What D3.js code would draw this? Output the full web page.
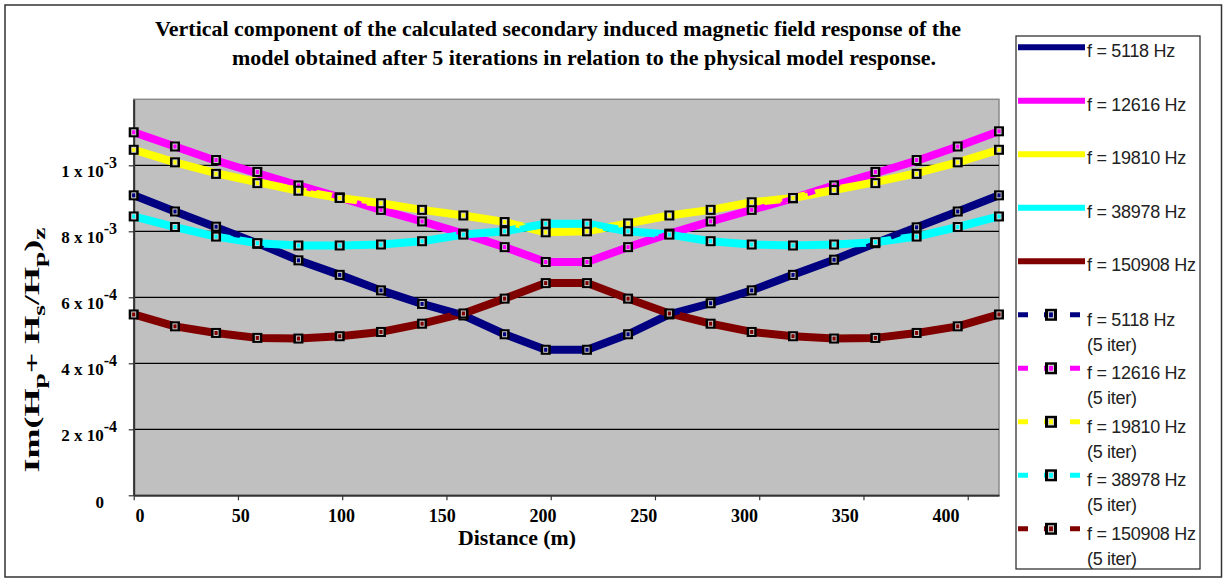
<!DOCTYPE html>
<html>
<head>
<meta charset="utf-8">
<script src="https://cdn.jsdelivr.net/npm/d3@7/dist/d3.min.js"></script>
<style>
  body { margin: 0; background: #ffffff; }
  svg { display: block; }
</style>
</head>
<body>
<svg id="chart" width="1227" height="581"></svg>
<script>
// Station positions along the profile (m)
const distance = [0, 19.8, 39.5, 59.3, 79.0, 98.8, 118.6, 138.3, 158.1, 177.9, 197.6,
                  217.4, 237.1, 256.9, 276.7, 296.4, 316.2, 335.9, 355.7, 375.5, 395.2, 415.0];

// Physical model response, Im(Hp + Hs/Hp)z
const phys5118   = [9.09e-4, 8.60e-4, 8.12e-4, 7.64e-4, 7.12e-4, 6.68e-4, 6.21e-4, 5.80e-4, 5.45e-4, 4.88e-4, 4.41e-4,
                    4.41e-4, 4.88e-4, 5.48e-4, 5.82e-4, 6.21e-4, 6.68e-4, 7.14e-4, 7.64e-4, 8.12e-4, 8.60e-4, 9.09e-4];
const phys12616  = [1.100e-3, 1.057e-3, 1.014e-3, 9.76e-4, 9.39e-4, 9.03e-4, 8.65e-4, 8.30e-4, 7.93e-4, 7.52e-4, 7.07e-4,
                    7.07e-4, 7.52e-4, 7.93e-4, 8.30e-4, 8.65e-4, 9.00e-4, 9.39e-4, 9.76e-4, 1.014e-3, 1.057e-3, 1.103e-3];
const phys19810  = [1.047e-3, 1.009e-3, 9.76e-4, 9.49e-4, 9.23e-4, 9.01e-4, 8.85e-4, 8.65e-4, 8.48e-4, 8.28e-4, 7.97e-4,
                    8.00e-4, 8.24e-4, 8.48e-4, 8.65e-4, 8.88e-4, 9.01e-4, 9.25e-4, 9.49e-4, 9.76e-4, 1.009e-3, 1.047e-3];
const phys38978  = [8.45e-4, 8.13e-4, 7.84e-4, 7.64e-4, 7.57e-4, 7.57e-4, 7.60e-4, 7.70e-4, 7.90e-4, 8.00e-4, 8.23e-4,
                    8.23e-4, 8.00e-4, 7.90e-4, 7.70e-4, 7.60e-4, 7.57e-4, 7.60e-4, 7.67e-4, 7.84e-4, 8.13e-4, 8.45e-4];
const phys150908 = [5.48e-4, 5.12e-4, 4.92e-4, 4.77e-4, 4.75e-4, 4.82e-4, 4.95e-4, 5.20e-4, 5.51e-4, 5.96e-4, 6.43e-4,
                    6.43e-4, 5.96e-4, 5.51e-4, 5.20e-4, 4.95e-4, 4.82e-4, 4.75e-4, 4.77e-4, 4.92e-4, 5.12e-4, 5.48e-4];

// Calculated response after 5 iterations
const iter5118   = [9.09e-4, 8.60e-4, 8.14e-4, 7.62e-4, 7.12e-4, 6.68e-4, 6.21e-4, 5.80e-4, 5.45e-4, 4.88e-4, 4.41e-4,
                    4.41e-4, 4.88e-4, 5.48e-4, 5.82e-4, 6.21e-4, 6.68e-4, 7.14e-4, 7.64e-4, 8.12e-4, 8.60e-4, 9.09e-4];
const iter12616  = [1.100e-3, 1.057e-3, 1.016e-3, 9.80e-4, 9.39e-4, 9.03e-4, 8.65e-4, 8.30e-4, 7.93e-4, 7.52e-4, 7.07e-4,
                    7.07e-4, 7.52e-4, 7.93e-4, 8.30e-4, 8.65e-4, 9.00e-4, 9.39e-4, 9.80e-4, 1.016e-3, 1.057e-3, 1.103e-3];
const iter19810  = [1.047e-3, 1.009e-3, 9.74e-4, 9.46e-4, 9.23e-4, 9.01e-4, 8.85e-4, 8.65e-4, 8.48e-4, 8.28e-4, 7.97e-4,
                    8.00e-4, 8.24e-4, 8.48e-4, 8.65e-4, 8.88e-4, 9.01e-4, 9.25e-4, 9.46e-4, 9.74e-4, 1.009e-3, 1.047e-3];
const iter38978  = [8.45e-4, 8.13e-4, 7.84e-4, 7.64e-4, 7.57e-4, 7.57e-4, 7.60e-4, 7.70e-4, 7.90e-4, 8.00e-4, 8.23e-4,
                    8.23e-4, 8.00e-4, 7.90e-4, 7.70e-4, 7.60e-4, 7.57e-4, 7.60e-4, 7.67e-4, 7.84e-4, 8.13e-4, 8.45e-4];
const iter150908 = [5.48e-4, 5.12e-4, 4.92e-4, 4.77e-4, 4.75e-4, 4.82e-4, 4.95e-4, 5.20e-4, 5.51e-4, 5.96e-4, 6.43e-4,
                    6.43e-4, 5.96e-4, 5.51e-4, 5.20e-4, 4.95e-4, 4.82e-4, 4.75e-4, 4.77e-4, 4.92e-4, 5.12e-4, 5.48e-4];

const frequencyLabels = ["f = 5118 Hz", "f = 12616 Hz", "f = 19810 Hz", "f = 38978 Hz", "f = 150908 Hz"];
const seriesColors = ["#000080", "#ff00ff", "#ffff00", "#00ffff", "#800000"];
const physicalSeries = [phys5118, phys12616, phys19810, phys38978, phys150908];
const iterationSeries = [iter5118, iter12616, iter19810, iter38978, iter150908];

const xTickValues = [0, 50, 100, 150, 200, 250, 300, 350, 400];
const yTickValues = [0, 2e-4, 4e-4, 6e-4, 8e-4, 1e-3];
const yTickMantissa = ["0", "2 x 10", "4 x 10", "6 x 10", "8 x 10", "1 x 10"];
const yTickExponent = ["", "-4", "-4", "-4", "-3", "-3"];

const titleLines = [
  "Vertical component of the calculated secondary induced magnetic field response of the",
  "model obtained after 5  iterations in relation to the physical model response."
];

// ---- layout ----
const svg = d3.select("#chart");
const plot = { left: 133.7, right: 999, top: 99.3, bottom: 495.3 };

const x = d3.scaleLinear().domain([0, 415]).range([plot.left, plot.right]);
const y = d3.scaleLinear().domain([0, 1.2e-3]).range([plot.bottom, plot.top]);
// the tick captions sit on a slightly narrower spacing than the tick marks
const xLabelPos = d3.scaleLinear().domain([0, 400]).range([140, 946]);

const serif = "'Liberation Serif', 'Times New Roman', serif";
const sans = "'Liberation Sans', Arial, sans-serif";

// outer frame
svg.append("rect")
  .attr("x", 5).attr("y", 5).attr("width", 1216.5).attr("height", 572)
  .attr("fill", "#ffffff").attr("stroke", "#333").attr("stroke-width", 1.5);

// title
const titleX = [155, 232], titleW = [806, 704], titleY = [36, 65];
titleLines.forEach((t, i) => {
  svg.append("text")
    .attr("x", titleX[i]).attr("y", titleY[i])
    .attr("font-family", serif).attr("font-weight", "bold").attr("font-size", 21)
    .attr("textLength", titleW[i]).attr("lengthAdjust", "spacingAndGlyphs")
    .attr("fill", "#000")
    .text(t);
});

// plot background
svg.append("rect")
  .attr("x", plot.left).attr("y", plot.top)
  .attr("width", plot.right - plot.left).attr("height", plot.bottom - plot.top)
  .attr("fill", "#c0c0c0").attr("stroke", "#8a8a8a").attr("stroke-width", 1.5);

// horizontal gridlines
svg.append("g")
  .selectAll("line")
  .data(yTickValues.filter(v => v > 0))
  .join("line")
  .attr("x1", plot.left).attr("x2", plot.right)
  .attr("y1", d => y(d)).attr("y2", d => y(d))
  .attr("stroke", "#000").attr("stroke-width", 1.2);

// axes
const xAxis = svg.append("g")
  .attr("transform", `translate(0,${plot.bottom})`)
  .call(d3.axisBottom(x).tickValues(xTickValues).tickSize(5).tickSizeOuter(0).tickFormat(""));
xAxis.select(".domain").attr("stroke", "#333").attr("stroke-width", 2);
xAxis.selectAll(".tick line").attr("stroke", "#333").attr("stroke-width", 1.2);

const yAxis = svg.append("g")
  .attr("transform", `translate(${plot.left},0)`)
  .call(d3.axisLeft(y).tickValues(yTickValues).tickSize(5).tickSizeOuter(0).tickFormat(""));
yAxis.select(".domain").attr("stroke", "#333").attr("stroke-width", 2);
yAxis.selectAll(".tick line").attr("stroke", "#333").attr("stroke-width", 1.2);

// x tick captions
svg.append("g")
  .selectAll("text")
  .data(xTickValues)
  .join("text")
  .attr("x", d => xLabelPos(d)).attr("y", 522)
  .attr("text-anchor", "middle")
  .attr("font-family", serif).attr("font-weight", "bold").attr("font-size", 18)
  .text(d => d);

// y tick captions with powers of ten
const yLabels = svg.append("g")
  .selectAll("text")
  .data(yTickValues)
  .join("text")
  .attr("x", (d, i) => yTickExponent[i] ? 117 : 104)
  .attr("y", (d, i) => y(d) + (yTickExponent[i] ? 12 : 13))
  .attr("text-anchor", "end")
  .attr("font-family", serif).attr("font-weight", "bold").attr("font-size", 17);
yLabels.append("tspan").text((d, i) => yTickMantissa[i]);
yLabels.filter((d, i) => yTickExponent[i] !== "")
  .append("tspan")
  .attr("dy", -9).attr("font-size", 16)
  .text(d => yTickExponent[yTickValues.indexOf(d)]);

// axis titles
svg.append("text")
  .attr("x", 517).attr("y", 545)
  .attr("text-anchor", "middle")
  .attr("font-family", serif).attr("font-weight", "bold").attr("font-size", 20)
  .attr("textLength", 118).attr("lengthAdjust", "spacingAndGlyphs")
  .text("Distance (m)");

const yTitle = svg.append("text")
  .attr("transform", "translate(39,350) rotate(-90)")
  .attr("text-anchor", "middle")
  .attr("font-family", serif).attr("font-weight", "bold").attr("font-size", 21)
  .attr("textLength", 245).attr("lengthAdjust", "spacingAndGlyphs");
const yTitleParts = [["Im(H", 0], ["p", 1], ["+ H", 0], ["s", 1], ["/H", 0], ["p", 1], [")", 0], ["z", 1]];
let lastSub = 0;
yTitleParts.forEach(([t, sub]) => {
  const dy = (sub - lastSub) * 6;
  yTitle.append("tspan").attr("dy", dy).attr("font-size", sub ? 16 : 21).text(t);
  lastSub = sub;
});

// series
const line = d3.line().x((d, i) => x(distance[i])).y(d => y(d));

const solidG = svg.append("g");
physicalSeries.forEach((s, k) => {
  solidG.append("path")
    .datum(s)
    .attr("d", line)
    .attr("fill", "none")
    .attr("stroke", seriesColors[k])
    .attr("stroke-width", 8)
    .attr("stroke-linejoin", "round");
});

// square marker: black frame, thin light ring, coloured core
function drawMarker(g, cx, cy, color, size) {
  g.append("rect")
    .attr("x", cx - size / 2).attr("y", cy - size / 2)
    .attr("width", size).attr("height", size)
    .attr("fill", "#000");
  g.append("rect")
    .attr("x", cx - size * 0.25).attr("y", cy - size * 0.3)
    .attr("width", size * 0.5).attr("height", size * 0.6)
    .attr("fill", "#cfcfcf");
  g.append("rect")
    .attr("x", cx - size * 0.16).attr("y", cy - size * 0.2)
    .attr("width", size * 0.32).attr("height", size * 0.4)
    .attr("fill", color);
}

const iterG = svg.append("g");
iterationSeries.forEach((s, k) => {
  iterG.append("path")
    .datum(s)
    .attr("d", line)
    .attr("fill", "none")
    .attr("stroke", seriesColors[k])
    .attr("stroke-width", 5)
    .attr("stroke-dasharray", "10,16");
  const mg = iterG.append("g");
  s.forEach((v, i) => drawMarker(mg, x(distance[i]), y(v), seriesColors[k], 10));
});

// legend
const legend = svg.append("g");
legend.append("rect")
  .attr("x", 1016).attr("y", 36).attr("width", 184).attr("height", 533)
  .attr("fill", "#ffffff").attr("stroke", "#222").attr("stroke-width", 1.2);

const entryY = i => 47.3 + i * 53.5;
frequencyLabels.forEach((lab, k) => {
  const yy = entryY(k);
  legend.append("line")
    .attr("x1", 1018).attr("x2", 1085).attr("y1", yy).attr("y2", yy)
    .attr("stroke", seriesColors[k]).attr("stroke-width", 6);
  legend.append("text")
    .attr("x", 1087).attr("y", yy + 10)
    .attr("font-family", sans).attr("font-size", 18).attr("letter-spacing", -0.3)
    .attr("fill", "#222")
    .text(lab);
});
frequencyLabels.forEach((lab, k) => {
  const yy = entryY(k + 5);
  legend.append("line")
    .attr("x1", 1018).attr("x2", 1085).attr("y1", yy).attr("y2", yy)
    .attr("stroke", seriesColors[k]).attr("stroke-width", 5)
    .attr("stroke-dasharray", "10,16");
  drawMarker(legend, 1051, yy, seriesColors[k], 12);
  const t = legend.append("text")
    .attr("font-family", sans).attr("font-size", 18).attr("letter-spacing", -0.3)
    .attr("fill", "#222");
  t.append("tspan").attr("x", 1087).attr("y", yy + 11).text(lab);
  t.append("tspan").attr("x", 1087).attr("y", yy + 36).text("(5 iter)");
});
</script>
</body>
</html>
